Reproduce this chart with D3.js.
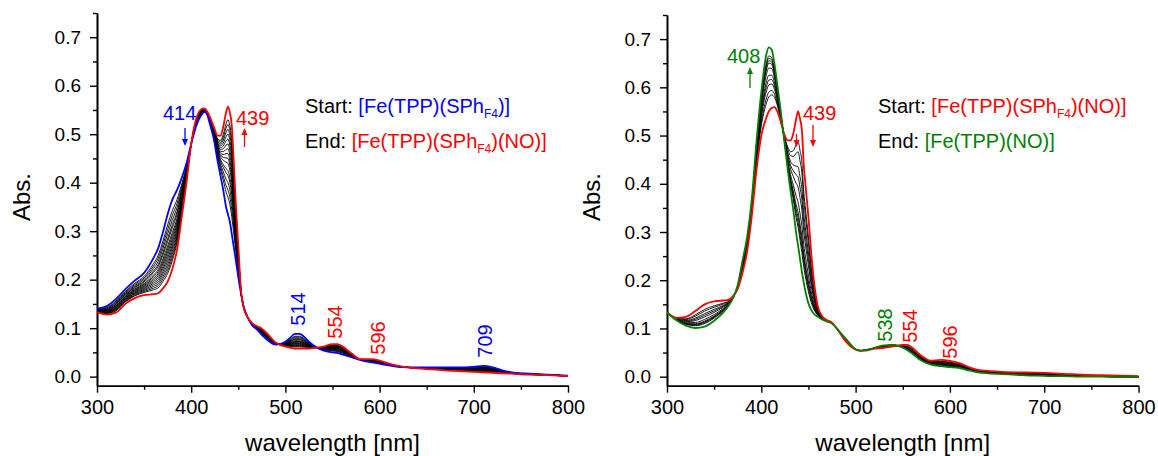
<!DOCTYPE html>
<html><head><meta charset="utf-8">
<script src="https://cdn.jsdelivr.net/npm/d3@7"></script>
<style>
body{margin:0;background:#fff;}
svg{display:block;font-family:"Liberation Sans", Arial, Helvetica, sans-serif;}
</style></head><body>
<svg id="chart" width="1158" height="456"></svg>
<script>
// ---------- data ----------
const wavelengths = [300,310,320,330,340,350,360,365,370,375,380,385,390,395,400,405,408,411,414,417,420,424,428,431,434,437,439,441,443,445,447,450,453,456,460,465,470,475,480,490,500,505,510,515,520,525,530,540,550,555,560,570,580,590,600,610,620,630,640,655,670,690,700,710,720,730,740,760,780,800];

// left panel: start [Fe(TPP)(SPhF4)] (blue) -> end [Fe(TPP)(SPhF4)(NO)] (red)
const leftStart = [0.140,0.145,0.160,0.180,0.198,0.214,0.245,0.265,0.298,0.335,0.365,0.385,0.410,0.440,0.480,0.515,0.530,0.540,0.546,0.540,0.520,0.490,0.445,0.415,0.385,0.350,0.335,0.320,0.295,0.270,0.245,0.205,0.170,0.142,0.122,0.105,0.097,0.086,0.077,0.066,0.072,0.080,0.088,0.088,0.082,0.072,0.064,0.054,0.050,0.049,0.046,0.040,0.034,0.030,0.027,0.023,0.020,0.019,0.019,0.019,0.019,0.019,0.020,0.022,0.019,0.013,0.009,0.006,0.004,0.002];
const leftEnd = [0.133,0.128,0.132,0.150,0.162,0.168,0.170,0.172,0.182,0.196,0.222,0.262,0.330,0.400,0.480,0.530,0.545,0.552,0.553,0.547,0.535,0.515,0.497,0.497,0.515,0.545,0.557,0.545,0.519,0.450,0.370,0.270,0.175,0.140,0.122,0.110,0.104,0.099,0.090,0.070,0.062,0.060,0.058,0.058,0.058,0.058,0.059,0.062,0.067,0.067,0.063,0.048,0.036,0.036,0.033,0.027,0.022,0.019,0.017,0.015,0.013,0.011,0.010,0.009,0.008,0.007,0.006,0.004,0.003,0.001];
// absorbance at 439 nm of the intermediate (black) traces
const leftTrace439 = [0.370,0.385,0.400,0.415,0.425,0.440,0.450,0.460,0.470,0.480,0.490,0.500,0.510,0.520,0.530];

// right panel: start [Fe(TPP)(SPhF4)(NO)] (red) -> end [Fe(TPP)(NO)] (green)
const rightStart = [0.133,0.122,0.124,0.136,0.150,0.156,0.158,0.159,0.167,0.182,0.215,0.260,0.335,0.430,0.500,0.535,0.550,0.557,0.559,0.550,0.533,0.505,0.490,0.490,0.505,0.535,0.550,0.535,0.512,0.440,0.395,0.330,0.255,0.195,0.145,0.124,0.117,0.112,0.100,0.072,0.056,0.054,0.054,0.056,0.058,0.059,0.060,0.063,0.066,0.066,0.060,0.043,0.033,0.035,0.033,0.028,0.020,0.014,0.012,0.010,0.009,0.0085,0.008,0.007,0.006,0.005,0.004,0.003,0.002,0.001];
const rightEnd = [0.133,0.117,0.106,0.101,0.104,0.116,0.134,0.146,0.163,0.190,0.240,0.290,0.370,0.490,0.590,0.665,0.683,0.678,0.648,0.605,0.560,0.495,0.430,0.385,0.345,0.297,0.272,0.245,0.218,0.195,0.175,0.152,0.138,0.130,0.124,0.118,0.114,0.110,0.100,0.078,0.057,0.054,0.055,0.057,0.060,0.063,0.065,0.066,0.060,0.055,0.048,0.033,0.025,0.022,0.020,0.018,0.013,0.009,0.007,0.0055,0.004,0.002,0.0015,0.001,0.001,0.0005,0.000,0.000,-0.001,-0.001];
// absorbance at 408 nm of the intermediate (black) traces
const rightTrace408 = [0.580,0.590,0.605,0.615,0.625,0.640,0.650,0.655,0.660,0.665];

const xTicks = [300,400,500,600,700,800];
const xMinorTicks = [350,450,550,650,750];
const yTicks = [0.0,0.1,0.2,0.3,0.4,0.5,0.6,0.7];
const yMinorTicks = [0.05,0.15,0.25,0.35,0.45,0.55,0.65,0.75];
const xDomain = [300,800];
const yDomain = [-0.0187,0.75];

// ---------- helpers ----------
function series(vals){ return wavelengths.map((w,i)=>[w, vals[i]]); }
function intermediates(start, end, refWl, refVals){
  const k = wavelengths.indexOf(refWl);
  return refVals.map(a=>{
    const f = (a - start[k])/(end[k]-start[k]);
    return wavelengths.map((w,i)=>[w, start[i] + f*(end[i]-start[i])]);
  });
}

const svg = d3.select("#chart");
const BLUE="#0000ff", RED="#ff0000", GREEN="#008000";

function drawPanel(p){
  const g = svg.append("g");
  const x = d3.scaleLinear().domain(xDomain).range([p.x0,p.x1]);
  const y = d3.scaleLinear().domain(yDomain).range([p.yBottom,p.yTop]);
  const line = d3.line().x(d=>x(d[0])).y(d=>y(d[1])).curve(d3.curveMonotoneX);

  // axes
  const xa = g.append("g").attr("transform",`translate(0,${p.yBottom})`)
    .call(d3.axisBottom(x).tickValues(xTicks).tickSize(7).tickSizeOuter(0).tickPadding(7).tickFormat(d3.format("d")));
  g.append("g").attr("transform",`translate(0,${p.yBottom})`)
    .call(d3.axisBottom(x).tickValues(xMinorTicks).tickSize(4).tickSizeOuter(0).tickFormat(""));
  const ya = g.append("g").attr("transform",`translate(${p.x0},0)`)
    .call(d3.axisLeft(y).tickValues(yTicks).tickSize(7).tickSizeOuter(0).tickPadding(9).tickFormat(d3.format(".1f")));
  g.append("g").attr("transform",`translate(${p.x0},0)`)
    .call(d3.axisLeft(y).tickValues(yMinorTicks).tickSize(4).tickSizeOuter(0).tickFormat(""));
  g.selectAll(".domain").attr("stroke","#000").attr("stroke-width",1.6);
  g.selectAll(".tick line").attr("stroke","#000").attr("stroke-width",1.4);
  xa.selectAll("text").attr("font-size",20).attr("fill","#000").attr("font-family","Liberation Sans, Arial, sans-serif");
  ya.selectAll("text").attr("font-size",19).attr("fill","#000").attr("font-family","Liberation Sans, Arial, sans-serif");

  // axis titles
  g.append("text").attr("x",(p.x0+p.x1)/2).attr("y",451).attr("text-anchor","middle")
    .attr("font-size",24).text("wavelength [nm]");
  g.append("text").attr("transform",`translate(${p.absX},197) rotate(-90)`).attr("text-anchor","middle")
    .attr("font-size",24).text("Abs.");

  // spectra
  p.black.forEach(s=>g.append("path").attr("d",line(s)).attr("fill","none").attr("stroke","#000").attr("stroke-width",0.9));
  p.colored.forEach(c=>g.append("path").attr("d",line(c.data)).attr("fill","none").attr("stroke",c.color).attr("stroke-width",1.8));

  // annotations
  p.labels.forEach(l=>{
    const t = g.append("text").attr("fill",l.color).attr("font-size",20);
    if(l.rot){ t.attr("transform",`translate(${l.x},${l.y}) rotate(-90)`).attr("text-anchor","middle"); }
    else { t.attr("x",l.x).attr("y",l.y); }
    t.text(l.text);
  });
  p.arrows.forEach(a=>{
    const dir = a.tip > a.tail ? 1 : -1;
    g.append("line").attr("x1",a.x).attr("x2",a.x).attr("y1",a.tail).attr("y2",a.tip - dir*6)
      .attr("stroke",a.color).attr("stroke-width",1.3);
    g.append("path").attr("d",`M${a.x-3},${a.tip-dir*7}L${a.x+3},${a.tip-dir*7}L${a.x},${a.tip}Z`).attr("fill",a.color);
  });

  // legend
  p.legend.forEach(r=>{
    const t = g.append("text").attr("x",p.legX).attr("y",r.y).attr("font-size",20);
    r.parts.forEach(pt=>{
      const s = t.append("tspan").attr("fill",pt.c).text(pt.t);
      if(pt.sub){ s.attr("font-size",12).attr("dy",5); }
      if(pt.up){ s.attr("dy",-5); }
    });
  });
}

drawPanel({
  x0:97, x1:568, yTop:13, yBottom:385.7, absX:30, legX:305,
  black: intermediates(leftStart, leftEnd, 439, leftTrace439),
  colored:[{data:series(leftStart),color:BLUE},{data:series(leftEnd),color:RED}],
  labels:[
    {text:"414",x:163,y:120,color:BLUE},
    {text:"439",x:236,y:125,color:RED},
    {text:"514",x:305,y:309,color:BLUE,rot:true},
    {text:"554",x:342,y:322,color:RED,rot:true},
    {text:"596",x:385,y:338,color:RED,rot:true},
    {text:"709",x:492,y:341,color:BLUE,rot:true}
  ],
  arrows:[{x:185,tail:128,tip:146,color:BLUE},{x:244.5,tail:147,tip:128,color:RED}],
  legend:[
    {y:113,parts:[{t:"Start: ",c:"#000"},{t:"[Fe(TPP)(SPh",c:BLUE},{t:"F4",c:BLUE,sub:true},{t:")]",c:BLUE,up:true}]},
    {y:148,parts:[{t:"End: ",c:"#000"},{t:"[Fe(TPP)(SPh",c:RED},{t:"F4",c:RED,sub:true},{t:")(NO)]",c:RED,up:true}]}
  ]
});

drawPanel({
  x0:667, x1:1138.5, yTop:15, yBottom:385.7, absX:600, legX:878,
  black: intermediates(rightStart, rightEnd, 408, rightTrace408),
  colored:[{data:series(rightStart),color:RED},{data:series(rightEnd),color:GREEN}],
  labels:[
    {text:"408",x:727,y:63,color:GREEN},
    {text:"439",x:803,y:120,color:RED},
    {text:"538",x:892,y:325,color:GREEN,rot:true},
    {text:"554",x:917,y:326,color:RED,rot:true},
    {text:"596",x:957,y:342,color:RED,rot:true}
  ],
  arrows:[{x:750,tail:88,tip:67,color:GREEN},{x:813,tail:125,tip:147,color:RED},{x:796.5,tail:134,tip:147,color:RED}],
  legend:[
    {y:113,parts:[{t:"Start: ",c:"#000"},{t:"[Fe(TPP)(SPh",c:RED},{t:"F4",c:RED,sub:true},{t:")(NO)]",c:RED,up:true}]},
    {y:148,parts:[{t:"End: ",c:"#000"},{t:"[Fe(TPP)(NO)]",c:GREEN}]}
  ]
});
</script>
</body></html>
